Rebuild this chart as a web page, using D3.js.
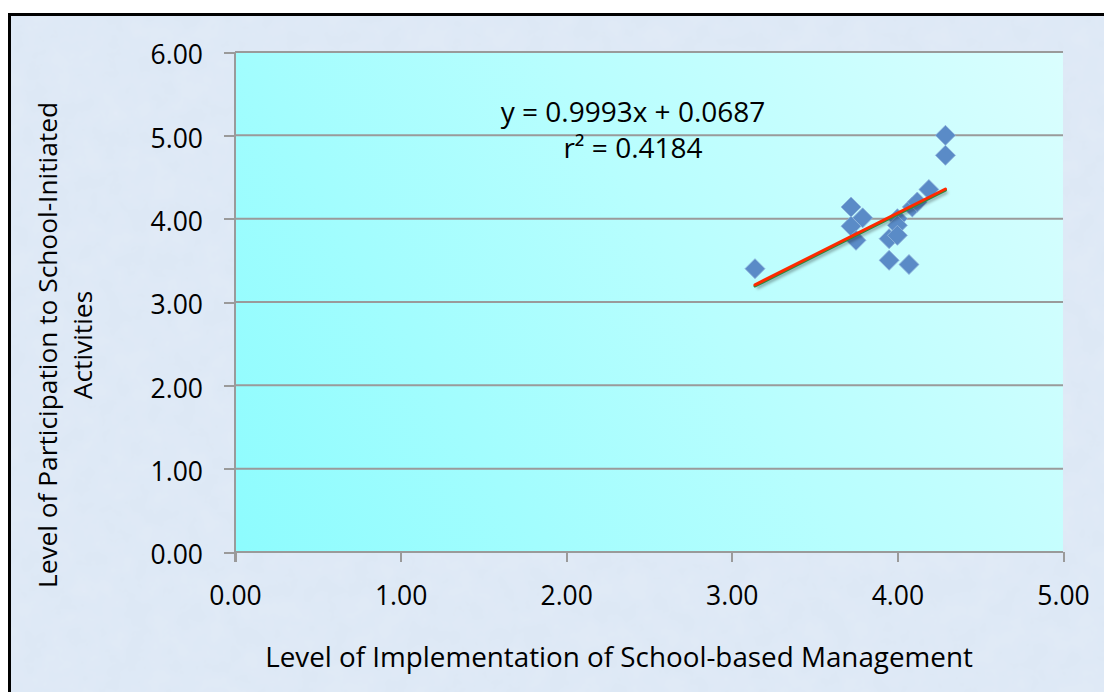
<!DOCTYPE html>
<html>
<head>
<meta charset="utf-8">
<script src="https://cdn.jsdelivr.net/npm/d3@7"></script>
<style>
  html, body { margin: 0; padding: 0; background: #ffffff; }
  svg { display: block; }
  text { font-family: "Open Sans", Lato, sans-serif; fill: #000; }
</style>
</head>
<body>
<svg id="chart" width="1104" height="692"></svg>
<script>
// Mean scores per respondent group
const implementation = [3.14, 4.29, 4.29, 3.72, 3.79, 3.72, 3.75, 4.00, 4.00, 3.95, 4.00, 3.95, 4.07, 4.09, 4.12, 4.19];
const participation  = [3.40, 5.00, 4.76, 4.14, 4.01, 3.91, 3.74, 4.00, 3.92, 3.76, 3.80, 3.50, 3.45, 4.14, 4.20, 4.35];

const xTicks = [0, 1, 2, 3, 4, 5];
const yTicks = [0, 1, 2, 3, 4, 5, 6];

// Linear trend line
const slope = 0.9993;
const intercept = 0.0687;
const rSquared = 0.4184;

const xTitle = "Level of Implementation of School-based Management";
const yTitleLines = ["Level of Participation to School-Initiated", "Activities"];

const W = 1104, H = 692;
const plot = { left: 235, right: 1063, top: 52, bottom: 552 };
const FONT = "'Open Sans', Lato, sans-serif";

const svg = d3.select("#chart");
const defs = svg.append("defs");

// Mottled paper texture for the chart frame
const tex = defs.append("filter").attr("id", "paper")
  .attr("x", 0).attr("y", 0).attr("width", "100%").attr("height", "100%");
tex.append("feTurbulence").attr("type", "fractalNoise")
  .attr("baseFrequency", "0.04").attr("numOctaves", 4).attr("seed", 7).attr("result", "noise");
tex.append("feColorMatrix").attr("in", "noise").attr("type", "matrix")
  .attr("values", "0 0 0 0 0.78  0 0 0 0 0.84  0 0 0 0 0.94  0 0 0 0.9 -0.25")
  .attr("result", "tint");
tex.append("feComposite").attr("in", "tint").attr("in2", "SourceGraphic").attr("operator", "atop");

// Plot-area gradient: cyan at the lower left fading to pale cyan at upper right
const grad = defs.append("linearGradient").attr("id", "plotFill")
  .attr("gradientUnits", "userSpaceOnUse")
  .attr("x1", plot.left).attr("y1", plot.bottom)
  .attr("x2", plot.right).attr("y2", plot.top);
grad.append("stop").attr("offset", "0%").attr("stop-color", "#8dfcfe");
grad.append("stop").attr("offset", "55%").attr("stop-color", "#b8fefe");
grad.append("stop").attr("offset", "100%").attr("stop-color", "#dafefe");

const shadow = defs.append("filter").attr("id", "lineShadow")
  .attr("x", "-10%").attr("y", "-50%").attr("width", "130%").attr("height", "200%");
shadow.append("feGaussianBlur").attr("stdDeviation", 1.6);

// Chart frame
svg.append("rect")
  .attr("x", 9.5).attr("y", 14.5).attr("width", W + 20).attr("height", H + 20)
  .attr("fill", "#dde8f5")
  .attr("filter", "url(#paper)");
svg.append("rect")
  .attr("x", 9.5).attr("y", 14.5).attr("width", W + 20).attr("height", H + 20)
  .attr("fill", "none").attr("stroke", "#000").attr("stroke-width", 3);

const x = d3.scaleLinear().domain([0, 5]).range([plot.left, plot.right]);
const y = d3.scaleLinear().domain([0, 6]).range([plot.bottom, plot.top]);
const fmt = d3.format(".2f");

// Plot area
svg.append("rect")
  .attr("x", plot.left).attr("y", plot.top)
  .attr("width", plot.right - plot.left).attr("height", plot.bottom - plot.top)
  .attr("fill", "url(#plotFill)");

// Horizontal gridlines
svg.append("g")
  .selectAll("line").data(yTicks.filter(d => d > 0)).join("line")
  .attr("x1", plot.left).attr("x2", plot.right)
  .attr("y1", d => y(d)).attr("y2", d => y(d))
  .attr("stroke", "#9a9a9a").attr("stroke-width", 2);

// Y axis
const yAxis = svg.append("g")
  .attr("transform", `translate(${plot.left},0)`)
  .call(d3.axisLeft(y).tickValues(yTicks).tickFormat(fmt).tickSize(11).tickPadding(21));
yAxis.select(".domain").attr("stroke", "#9a9a9a").attr("stroke-width", 2)
  .attr("d", `M0,${plot.top}V${plot.bottom + 10}`);
yAxis.selectAll(".tick line").attr("stroke", "#9a9a9a").attr("stroke-width", 2);
yAxis.selectAll(".tick text").attr("font-size", 26.5).attr("dy", "0.45em")
  .style("font-family", FONT).attr("fill", "#000");

// X axis
const xAxis = svg.append("g")
  .attr("transform", `translate(0,${plot.bottom})`)
  .call(d3.axisBottom(x).tickValues(xTicks).tickFormat(fmt).tickSize(10).tickPadding(12));
xAxis.select(".domain").attr("stroke", "#9a9a9a").attr("stroke-width", 2)
  .attr("d", `M${plot.left},0H${plot.right}`);
xAxis.selectAll(".tick line").attr("stroke", "#9a9a9a").attr("stroke-width", 2);
xAxis.selectAll(".tick text").attr("font-size", 26.5).attr("dy", 0).attr("y", 53)
  .style("font-family", FONT).attr("fill", "#000");
svg.selectAll(".domain, .tick line").attr("shape-rendering", "crispEdges");

// Data markers (diamonds)
const diamond = d3.symbol().type(d3.symbolSquare).size(200);
const points = implementation.map((v, i) => ({ x: v, y: participation[i] }));
svg.append("g")
  .selectAll("path").data(points).join("path")
  .attr("d", diamond)
  .attr("transform", d => `translate(${x(d.x)},${y(d.y)}) rotate(45)`)
  .attr("fill", "#5a8bc7")
  .attr("stroke", "#8fb3dc").attr("stroke-width", 0.8)
  .attr("stroke-linejoin", "round");

// Trend line across the range of observed x values
const [xMin, xMax] = d3.extent(implementation);
const trend = [xMin, xMax].map(v => ({ x: v, y: slope * v + intercept }));
const tl = svg.append("g");
tl.append("line")
  .attr("x1", x(trend[0].x) + 2).attr("y1", y(trend[0].y) + 3)
  .attr("x2", x(trend[1].x) + 2).attr("y2", y(trend[1].y) + 3)
  .attr("stroke", "rgba(0,0,0,0.35)").attr("stroke-width", 3)
  .attr("filter", "url(#lineShadow)");
tl.append("line")
  .attr("x1", x(trend[0].x)).attr("y1", y(trend[0].y) + 1.2)
  .attr("x2", x(trend[1].x)).attr("y2", y(trend[1].y) + 1.2)
  .attr("stroke", "#2f8a3c").attr("stroke-width", 3).attr("stroke-linecap", "round");
tl.append("line")
  .attr("x1", x(trend[0].x)).attr("y1", y(trend[0].y))
  .attr("x2", x(trend[1].x)).attr("y2", y(trend[1].y))
  .attr("stroke", "#ff2a00").attr("stroke-width", 3).attr("stroke-linecap", "round");

// Equation label
const eq = svg.append("g").attr("font-size", 28).attr("text-anchor", "middle");
eq.append("text").attr("x", 633).attr("y", 122)
  .text(`y = ${slope.toFixed(4)}x + ${intercept.toFixed(4)}`);
eq.append("text").attr("x", 633).attr("y", 158)
  .text(`r² = ${rSquared.toFixed(4)}`);

// Axis titles
svg.append("text")
  .attr("x", 619).attr("y", 667).attr("text-anchor", "middle").attr("font-size", 27.8)
  .text(xTitle);

const yt = svg.append("text")
  .attr("transform", "translate(57,345) rotate(-90)")
  .attr("text-anchor", "middle").attr("font-size", 26.3);
yt.selectAll("tspan").data(yTitleLines).join("tspan")
  .attr("x", 0).attr("dy", (d, i) => i === 0 ? 0 : 35)
  .text(d => d);
</script>
</body>
</html>
